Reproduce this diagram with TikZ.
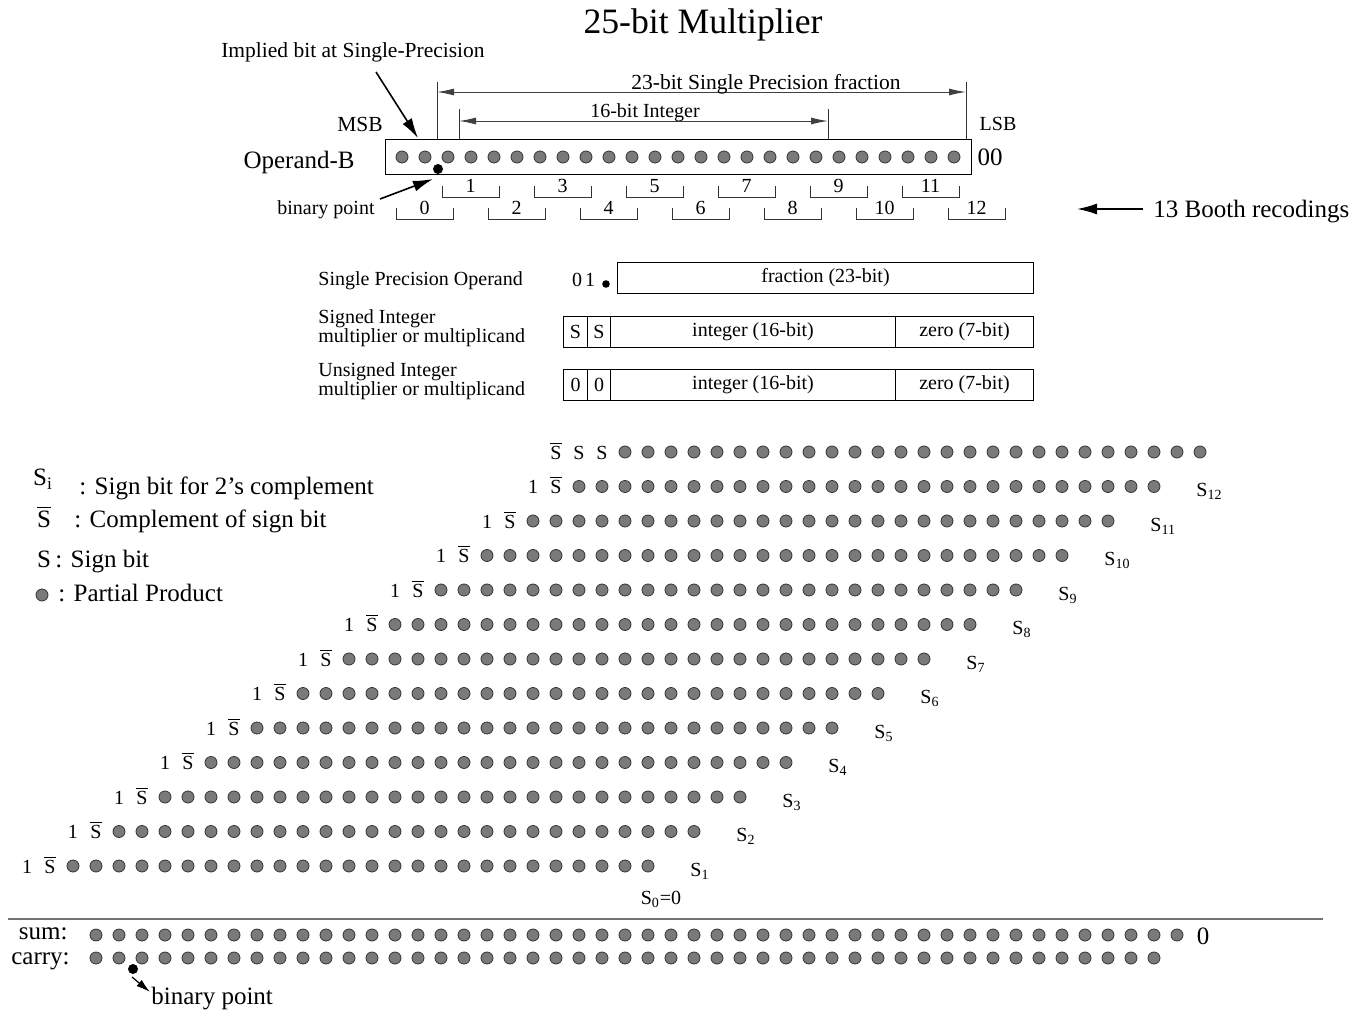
\documentclass[tikz,border=0pt]{standalone}
\usepackage{fontspec}
\setmainfont{Liberation Serif}
\usepackage{tikz}
\usetikzlibrary{arrows.meta, positioning}

\newcommand{\Sb}{$\overline{\hbox{S}}$}

\begin{document}
\begin{tikzpicture}[
  x=0.5pt, y=-0.5pt,
  pp/.style={circle, draw=black!80, fill=black!52, line width=0.4pt,
             minimum size=6pt, inner sep=0pt},
  bp/.style={circle, fill=black, minimum size=5pt, inner sep=0pt},
  lbl/.style={font=\fontsize{10}{12}\selectfont, inner sep=0pt},
  mid/.style={font=\fontsize{10.75}{13}\selectfont, inner sep=0pt},
  big/.style={font=\fontsize{12.5}{15}\selectfont, inner sep=0pt},
  arr/.style={-{Latex[length=10pt,width=5.5pt]}, line width=0.8pt},
  dimarr/.style={{Latex[length=8.5pt,width=3.5pt]}-{Latex[length=8.5pt,width=3.5pt]},
                 line width=0.5pt, black!75},
  brk/.style={line width=0.5pt, black!80},
  cell/.style={draw, line width=0.5pt, inner sep=0pt, font=\fontsize{10}{12}\selectfont,
               minimum height=15.5pt, anchor=north west}
]
\useasboundingbox (0,0) rectangle (1367,1012);

\node[font=\fontsize{17.85}{20}\selectfont, anchor=base] (title) at (703,33) {25-bit Multiplier};

% Operand-B
\draw[line width=0.5pt] (385,139) rectangle (971,174);
\foreach \i in {0,...,24}
  \node[pp] (b\i) at ({402+23*\i},157) {};
\node[bp] (bpt) at (438,169) {};
\node[big, anchor=base east] (opb) at (355,168) {Operand-B};
\node[big] (zz) at (990,157) {00};
\node[mid] (msb) at (360,124) {MSB};
\node[lbl] (lsb) at (998,124) {LSB};

\node[mid] (impl) at (353,52) {Implied bit at Single-Precision};
\coordinate (implf) at (376,72);
\coordinate (implt) at (418,138);
\draw[arr] (implf) -- (implt);

% fraction and integer widths
\coordinate (fa) at (437,82);  \coordinate (fb) at (966,82);
\coordinate (ia) at (459,109); \coordinate (ib) at (828,109);
\draw[brk] (fa) -- (437,139);
\draw[brk] (fb) -- (966,139);
\draw[brk] (ia) -- (459,139);
\draw[brk] (ib) -- (828,139);
\draw[dimarr] (437,92) -- (966,92);
\draw[dimarr] (459,121) -- (828,121);
\node[mid, anchor=base] (fr23) at (766,89) {23-bit Single Precision fraction};
\node[lbl, anchor=base] (in16) at (645,117) {16-bit Integer};

% Booth groups
\foreach \k in {0,...,12}{
  \pgfmathsetmacro{\by}{isodd(\k) ? 197 : 219}
  \draw[brk] ({396+46*\k},{\by-11}) -- ({396+46*\k},\by)
          -- ({453+46*\k},\by) -- ({453+46*\k},{\by-11});
  \node[lbl, anchor=base] (g\k) at ({424.5+46*\k},{\by-5}) {\k};
}
\node[lbl, anchor=base] (bplbl) at (326,214) {binary point};
\coordinate (bpla) at (380,199);
\coordinate (bplb) at (433,179);
\draw[arr] (bpla) -- (bplb);

\node[big, anchor=base west] (booth) at (1153,217) {13 Booth recodings};
\coordinate (bootht) at (1077,209);
\draw[arr] (1143,209) -- (bootht);

% operand formats
\node[lbl, anchor=base west] (spo) at (318,285) {Single Precision Operand};
\node[lbl] (z0) at (577,280) {0};
\node[lbl] (z1) at (590,280) {1};
\node[bp, minimum size=3.8pt] (bp2) at (606,284) {};
\node[cell, minimum width=208pt] (frac) at (617,262) {fraction (23-bit)};

\foreach \row/\y/\b/\txt in {sgn/316/S/Signed Integer, uns/369/0/Unsigned Integer}{
  \node[cell, minimum width=12pt]   (\row1) at (563,\y) {\b};
  \node[cell, minimum width=11.5pt] (\row2) at (587,\y) {\b};
  \node[cell, minimum width=142.5pt] (\row3) at (610,\y) {integer (16-bit)};
  \node[cell, minimum width=69pt]   (\row4) at (895,\y) {zero (7-bit)};
  \node[lbl, anchor=west, align=left, font=\fontsize{10}{9.5}\selectfont]
    (\row l) at (318,{\y+12.5}) {\txt\\multiplier or multiplicand};
}

% legend
\node[big] (lgs) at (43,479) {S\textsubscript{i}};
\node[big, anchor=base west] (lgst) at (79,494) {: Sign bit for 2’s complement};
\node[big, anchor=base] (lgsb) at (44,527) {\Sb};
\node[big, anchor=base west] (lgsbt) at (74,527) {: Complement of sign bit};
\node[big, anchor=base] (lgsg) at (44,567) {S};
\node[big, anchor=base west] (lgsgt) at (55,567) {: Sign bit};
\node[pp] (lgd) at (42,595) {};
\node[big, anchor=base west] (lgdt) at (58,601) {: Partial Product};

% partial products
\node[lbl, anchor=base] (tsb) at ({27+23*23},459) {\Sb};
\node[lbl, anchor=base] (ts1) at ({27+23*24},459) {S};
\node[lbl, anchor=base] (ts2) at ({27+23*25},459) {S};
\foreach \c in {26,...,51}
  \node[pp] (t\c) at ({27+23*\c},452) {};

\foreach \k in {1,...,12}{
  \pgfmathsetmacro{\ry}{452+34.5*(13-\k)}
  \pgfmathtruncatemacro{\cs}{2*(\k-1)}
  \node[lbl, anchor=base] (one\k) at ({27+23*\cs},{\ry+7}) {1};
  \node[lbl, anchor=base] (sb\k) at ({27+23*(\cs+1)},{\ry+7}) {\Sb};
  \foreach \j in {2,...,27}
    \node[pp] (p\k-\j) at ({27+23*(\cs+\j)},\ry) {};
  \node[lbl, anchor=base west] (s\k) at ({27+23*(\cs+27)+42},{\ry+10}) {S\textsubscript{\k}};
}
\node[lbl, anchor=base] (s0) at (661,904) {S\textsubscript{0}=0};

% sum and carry
\draw[black!55, line width=1pt] (8,919) -- (1323,919);
\node[big, anchor=base east] (sum) at (68,939) {sum:};
\foreach \c in {3,...,50}
  \node[pp] (sm\c) at ({27+23*\c},935) {};
\node[big] (sm0) at (1203,936) {0};
\node[big, anchor=base east] (carry) at (70,964) {carry:};
\foreach \c in {3,...,49}
  \node[pp] (cy\c) at ({27+23*\c},958) {};
\node[bp] (bp3) at (133,969) {};
\node[big, anchor=base west] (bpl3) at (151,1004) {binary point};
\coordinate (bp3a) at (132,977);
\coordinate (bp3b) at (150,992);
\draw[-{Latex[length=7pt,width=4pt]}, line width=0.6pt] (bp3a) -- (bp3b);
\end{tikzpicture}
\end{document}
